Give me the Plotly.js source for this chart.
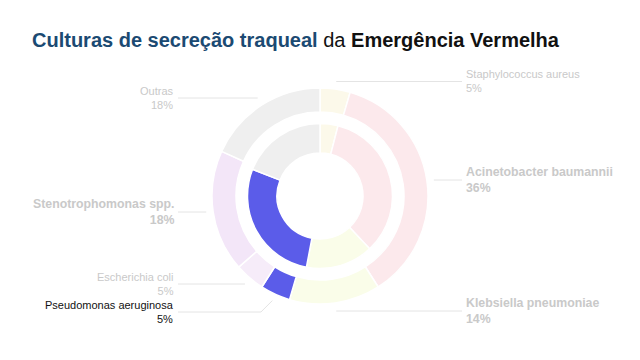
<!DOCTYPE html>
<html>
<head>
<meta charset="utf-8">
<script src="https://cdn.plot.ly/plotly-3.0.1.min.js"></script>
<style>html,body{margin:0;padding:0;background:#fff;}#chart{width:640px;height:360px;}</style>
</head>
<body>
<div id="chart"></div>
<script>
// ---- data ----
const outerLabels = ['Staphylococcus aureus','Acinetobacter baumannii','Klebsiella pneumoniae','Pseudomonas aeruginosa','Escherichia coli','Stenotrophomonas spp.','Outras'];
const outerValues = [4.5, 36.4, 13.6, 4.5, 4.5, 18.2, 18.2];
const outerPct = ['5%','36%','14%','5%','5%','18%','18%'];
const innerLabels = ['Staphylococcus aureus','Acinetobacter baumannii','Klebsiella pneumoniae','Stenotrophomonas spp.','Outras'];
const innerValues = [4, 34, 15, 28, 19];

// ---- styles ----
const outerColors = ['#fcf9ea','#fce9ec','#fafde9','#5b5ce9','#f6ecf9','#f3e6f8','#efefef'];
const innerColors = ['#fcf9ea','#fce9ec','#fafde9','#5b5ce9','#efefef'];
const FONT = 'Liberation Sans, Arial, Helvetica, sans-serif';
const W = 640, H = 360;
const cx = 320, cy = 196, R1 = 108, R1in = 84, R2 = 72.5, R2in = 43;
// label layout: side and vertical position (px), bold flag, color
const labelCfg = {
  'Staphylococcus aureus':   {side:'right', y:81.5, bold:false, color:'#c9c9c9'},
  'Acinetobacter baumannii': {side:'right', y:180,  bold:true,  color:'#c9c9c9'},
  'Klebsiella pneumoniae':   {side:'right', y:311,  bold:true,  color:'#c9c9c9'},
  'Pseudomonas aeruginosa':  {side:'left',  y:312,  bold:false, color:'#111111'},
  'Escherichia coli':        {side:'left',  y:284,  bold:false, color:'#c9c9c9'},
  'Stenotrophomonas spp.':   {side:'left',  y:212,  bold:true,  color:'#c9c9c9'},
  'Outras':                  {side:'left',  y:98,   bold:false, color:'#c9c9c9'}
};
const LEFT_X = 176, RIGHT_X = 464, LINE_R = 115;

const xp = px => px / W;
const yp = py => 1 - py / H;

const traces = [
  {type:'pie', labels: outerLabels, values: outerValues, sort:false, direction:'clockwise', rotation:0,
   hole: R1in / R1, textinfo:'none', hoverinfo:'label+percent',
   marker:{colors: outerColors, line:{color:'#ffffff', width:1.5}},
   domain:{x:[xp(cx-R1), xp(cx+R1)], y:[yp(cy+R1), yp(cy-R1)]}, showlegend:false},
  {type:'pie', labels: innerLabels, values: innerValues, sort:false, direction:'clockwise', rotation:0,
   hole: R2in / R2, textinfo:'none', hoverinfo:'label+percent',
   marker:{colors: innerColors, line:{color:'#ffffff', width:1.5}},
   domain:{x:[xp(cx-R2), xp(cx+R2)], y:[yp(cy+R2), yp(cy-R2)]}, showlegend:false}
];

const total = outerValues.reduce((a,b)=>a+b,0);
let cum = 0;
const annotations = [];
const shapes = [];
outerLabels.forEach((lab, i) => {
  const mid = (cum + outerValues[i] / 2) / total * 2 * Math.PI;
  cum += outerValues[i];
  const cfg = labelCfg[lab];
  const px = cx + LINE_R * Math.sin(mid), py = cy - LINE_R * Math.cos(mid);
  const left = cfg.side === 'left';
  const endX = left ? LEFT_X + 2 : RIGHT_X - 2;
  const dy = cfg.y - py;
  let path;
  if (Math.abs(dy) > 3) {
    const ex = left ? px - Math.abs(dy) : px + Math.abs(dy);
    path = `M ${xp(px)},${yp(py)} L ${xp(ex)},${yp(cfg.y)} L ${xp(endX)},${yp(cfg.y)}`;
  } else {
    path = `M ${xp(px)},${yp(cfg.y)} L ${xp(endX)},${yp(cfg.y)}`;
  }
  shapes.push({type:'path', xref:'paper', yref:'paper', path, line:{color:'#e4e4e4', width:1}});
  const txt = cfg.bold ? `<b>${lab}</b><br><b>${outerPct[i]}</b>` : `${lab}<br>${outerPct[i]}`;
  annotations.push({
    xref:'paper', yref:'paper', x: xp(left ? LEFT_X : RIGHT_X), y: yp(cfg.y),
    xanchor: left ? 'right' : 'left', yanchor:'middle', align: left ? 'right' : 'left',
    showarrow:false, text: txt,
    font:{family: FONT, size: cfg.bold ? 12.3 : 11, color: cfg.color}
  });
});

const layout = {
  width: W, height: H, margin:{l:0, r:0, t:0, b:0},
  paper_bgcolor:'#ffffff', plot_bgcolor:'#ffffff',
  title:{
    text:'<b><span style="color:#1b4a72">Culturas de secreção traqueal</span></b> da <b>Emergência Vermelha</b>',
    font:{family: FONT, size: 20, color:'#111111'},
    x: 32 / W, xanchor:'left', xref:'container',
    y: 1 - 40 / H, yanchor:'middle', yref:'container'
  },
  shapes, annotations, showlegend:false
};

Plotly.newPlot('chart', traces, layout, {displayModeBar:false, staticPlot:true});
</script>
</body>
</html>
